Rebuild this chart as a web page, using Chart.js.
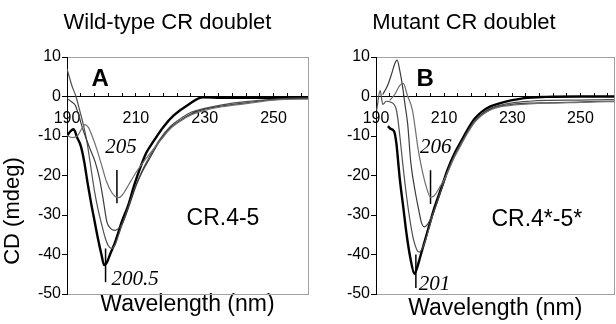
<!DOCTYPE html>
<html>
<head>
<meta charset="utf-8">
<script src="https://cdn.jsdelivr.net/npm/chart.js@4.4.1/dist/chart.umd.min.js"></script>
<style>
  html, body { margin: 0; padding: 0; background: #fff; overflow: hidden; }
  body { width: 616px; height: 324px; position: relative; }
  canvas { position: absolute; top: 0; }
  #chartA { left: 0; }
  #chartB { left: 310px; }
</style>
</head>
<body>
<canvas id="chartA" width="338" height="324"></canvas>
<canvas id="chartB" width="314" height="324"></canvas>
<script>
// tick marks every 4 nm, labels every 20 nm
const xTicks = [190, 194, 198, 202, 206, 210, 214, 218, 222, 226, 230, 234, 238, 242, 246, 250, 254, 258];
const xLabels = [190, 210, 230, 250];

// ---- panel A : wild-type CR.4-5 ----
const wlA1 = [190, 191.5, 193, 194.2, 195.2, 196.2, 197.3, 198.6, 200, 201.5, 203, 204, 205, 206, 207, 208, 210, 212, 214, 217, 220, 223, 226.5, 230, 235, 242, 250, 258, 260];
const cdA1 = [-9.8, -10.4, -10, -8.3, -7.1, -7.8, -10, -13.2, -17.2, -21.6, -24.3, -25.3, -25.6, -25, -23.7, -22.2, -19.3, -16.8, -14.5, -11.3, -8.2, -6.2, -4.5, -3.5, -2.6, -1.8, -0.9, -0.7, -0.7];
const wlA2 = [190, 191.4, 192.4, 193.5, 194.5, 195.5, 196.8, 198.2, 199.5, 200.5, 201.6, 202.8, 204, 205, 206, 208, 210, 212, 214, 217, 220, 223, 226.5, 230, 235, 242, 250, 258, 260];
const cdA2 = [-0.5, -1.4, -2.2, -5, -8, -10.5, -13.5, -16.6, -21, -26, -31.8, -33.5, -33.9, -33.4, -32.3, -27.8, -22.7, -18.8, -15.7, -11.2, -7.9, -6, -4.2, -3.2, -2.4, -1.6, -0.8, -0.5, -0.5];
const wlA3 = [190, 191.4, 192.6, 193.8, 194.8, 195.8, 196.7, 198, 199, 199.9, 201, 202, 203, 204, 205, 206, 208, 210, 212, 214, 217, 220, 223, 226, 230, 235, 242, 250, 258, 260];
const cdA3 = [7, 2.8, 0, -3.9, -7.3, -11.5, -16.6, -24, -28.5, -31.8, -35.5, -37.8, -38.5, -37.5, -35, -32.5, -27.5, -22.5, -18.5, -15.2, -10.8, -7.6, -5.6, -4, -3, -2.1, -1.3, -0.7, -0.4, -0.4];
const wlA4 = [190, 191, 191.9, 193, 194, 195, 196, 197, 198, 199, 200, 200.8, 201.6, 202.5, 204, 206, 207.8, 209.5, 211.5, 213, 215, 218, 221, 225, 229.5, 235, 245, 260];
const cdA4 = [-10, -8.8, -8.3, -10.5, -12.5, -16.5, -22, -27, -31.5, -36, -40, -42.7, -42, -40, -36.8, -31.5, -27.5, -22.5, -17.5, -14.3, -11.5, -7.7, -4.8, -2.2, -0.2, -0.3, -0.3, -0.3];

// ---- panel B : mutant CR.4*-5* ----
const wlB1 = [194, 195.5, 197, 198, 199.2, 200.7, 201.5, 202.3, 203.5, 204.8, 206, 207, 208, 209, 210, 211, 213, 215, 217, 219, 221, 223.6, 226, 230, 235, 240, 250, 258, 260];
const cdB1 = [-1, 0.5, 2.8, 3.3, 0.3, -3.5, -8, -13, -18.5, -23, -25.5, -25.2, -24, -22.5, -21, -19.3, -15.4, -12.2, -9.1, -6.5, -4.8, -3.4, -2.7, -2.2, -1.9, -1.7, -1.5, -1.3, -1.3];
const wlB2 = [192, 193.5, 194.5, 195.5, 196.2, 197, 197.8, 198.5, 199.3, 200.2, 201.7, 202.5, 203.3, 204.2, 205, 206, 207, 208, 209, 210, 211, 213, 215, 217, 219, 221, 223.6, 226, 230, 235, 240, 250, 258, 260];
const cdB2 = [0.5, 3, 5.5, 8.3, 9.2, 6.5, 2.5, -2, -7, -16.6, -25, -28.5, -31.8, -33, -32.5, -31, -29.2, -26.7, -24.2, -21.7, -19.2, -15.2, -12, -8.9, -6.3, -4.6, -3.2, -2.5, -2, -1.7, -1.6, -1.4, -1.2, -1.2];
const wlB3 = [190.2, 191.2, 192, 193, 194.2, 195.9, 196.4, 197, 197.8, 199, 200, 201, 202.6, 203.5, 204.5, 205.5, 207, 208, 209, 210, 211, 213, 215, 217, 219, 221, 223.6, 226, 230, 235, 240, 250, 258, 260];
const cdB3 = [-3.5, 1.5, -2, -1.2, -1.4, -3.1, -5.6, -10, -16.6, -25.5, -31.5, -36.2, -39.4, -38.6, -36.5, -33.5, -29, -26.5, -24, -21.5, -19, -15, -11.8, -8.7, -6.1, -4.4, -3, -2.3, -1.6, -1.2, -1, -0.9, -0.8, -0.8];
const wlB4 = [193.5, 194.3, 195.3, 196, 196.5, 197, 198, 199, 200, 201.3, 202, 203, 204, 205, 206, 207, 208, 209, 210, 211, 213, 215, 217, 219, 221, 223.6, 226, 229.6, 233.5, 240, 250, 260];
const cdB4 = [-7.5, -8.2, -8.8, -12, -16.5, -21, -28, -35, -40.5, -44.9, -43.5, -40.5, -37.5, -34.5, -31.5, -28.5, -26, -23.5, -21, -18.5, -14.5, -11.3, -8.2, -5.6, -3.9, -2.5, -1.8, -1, -0.4, -0.1, 0, 0];

// wavelength markers [x, yTop, yBottom]
const markA1 = [204.5, -18.6, -27];
const markA4 = [201.2, -38.5, -47];
const markB1 = [206, -18.7, -27.2];
const markB4 = [201.7, -40, -48.5];

const SANS = "'Liberation Sans', Arial, sans-serif";
const SERIF = "'Liberation Serif', 'Times New Roman', serif";

function pts(wl, cd) {
    return wl.map((w, i) => ({ x: w, y: cd[i] }));
}

function curve(wl, cd, color, width) {
    return {
        data: pts(wl, cd),
        borderColor: color,
        borderWidth: width,
        pointRadius: 0,
        cubicInterpolationMode: 'monotone',
        fill: false
    };
}

function marker(m) {
    return {
        data: [{ x: m[0], y: m[1] }, { x: m[0], y: m[2] }],
        borderColor: '#000',
        borderWidth: 1.5,
        pointRadius: 0,
        tension: 0
    };
}

// letters, sample names and wavelength labels placed in data units
function textPlugin(items, yTitle) {
    return {
        id: 'panelText',
        afterDraw(chart) {
            const { ctx, scales: { x, y } } = chart;
            ctx.save();
            ctx.fillStyle = '#000';
            ctx.textAlign = 'center';
            ctx.textBaseline = 'middle';
            items.forEach(t => {
                ctx.font = t.font;
                ctx.fillText(t.text, x.getPixelForValue(t.x), y.getPixelForValue(t.y));
            });
            if (yTitle) {
                ctx.translate(13, y.getPixelForValue(-29));
                ctx.rotate(-Math.PI / 2);
                ctx.font = '22px ' + SANS;
                ctx.fillText(yTitle, 0, 0);
            }
            ctx.restore();
        }
    };
}

function drawPanel(id, p) {
    const ctx = document.getElementById(id).getContext('2d');
    return new Chart(ctx, {
        type: 'line',
        data: { datasets: p.datasets },
        options: {
            responsive: false,
            animation: false,
            layout: { padding: { top: 7, right: p.padRight, bottom: 0, left: p.padLeft } },
            plugins: {
                legend: { display: false },
                tooltip: { enabled: false },
                title: {
                    display: true,
                    text: p.title,
                    color: '#000',
                    font: { family: SANS, size: 22, weight: 'normal' },
                    padding: { top: 3, bottom: 20.6 }
                }
            },
            scales: {
                x: {
                    type: 'linear',
                    min: 190,
                    max: 260,
                    position: { y: 0 },
                    afterBuildTicks: s => { s.ticks = xTicks.map(v => ({ value: v })); },
                    ticks: {
                        autoSkip: false,
                        maxRotation: 0,
                        padding: 16,
                        color: '#000',
                        font: { family: SANS, size: 16 },
                        callback: v => xLabels.includes(v) ? String(v) : ''
                    },
                    grid: { drawOnChartArea: false, tickLength: -4, color: '#000' },
                    border: { color: '#000', width: 1 }
                },
                xBottom: {
                    type: 'linear',
                    axis: 'x',
                    position: 'bottom',
                    min: 190,
                    max: 260,
                    afterFit: s => { s.height = 30; },
                    ticks: { display: false },
                    grid: { display: false, drawTicks: false },
                    border: { color: '#a0a0a0' },
                    title: {
                        display: true,
                        text: 'Wavelength (nm)',
                        color: '#000',
                        font: { family: SANS, size: 23 },
                        padding: { top: 0, bottom: p.xTitlePad }
                    }
                },
                xTop: {
                    type: 'linear',
                    axis: 'x',
                    position: 'top',
                    min: 190,
                    max: 260,
                    afterFit: s => { s.height = 0; },
                    ticks: { display: false },
                    grid: { display: false, drawTicks: false },
                    border: { color: '#a0a0a0' }
                },
                y: {
                    min: -50,
                    max: 10,
                    position: 'left',
                    afterFit: s => { s.width = p.yWidth; },
                    ticks: {
                        stepSize: 5,
                        padding: 1,
                        color: '#000',
                        font: { family: SANS, size: 16 },
                        callback: v => v % 10 === 0 ? String(v) : ''
                    },
                    grid: { drawOnChartArea: false, tickLength: 5, color: '#000' },
                    border: { color: '#000', width: 1 }
                },
                yRight: {
                    axis: 'y',
                    position: 'right',
                    min: -50,
                    max: 10,
                    afterFit: s => { s.width = 0; },
                    ticks: { display: false },
                    grid: { display: false, drawTicks: false },
                    border: { color: '#a0a0a0' }
                }
            }
        },
        plugins: [textPlugin(p.texts, p.yTitle)]
    });
}

drawPanel('chartA', {
    title: 'Wild-type CR doublet',
    yTitle: 'CD (mdeg)',
    padLeft: 27,
    yWidth: 40,
    padRight: 30,
    xTitlePad: 6,
    datasets: [
        curve(wlA1, cdA1, '#6e6e6e', 1.2),
        curve(wlA2, cdA2, '#3c3c3c', 1.2),
        curve(wlA3, cdA3, '#505050', 1.2),
        curve(wlA4, cdA4, '#000', 2.4),
        marker(markA1),
        marker(markA4)
    ],
    texts: [
        { text: 'A', x: 199.6, y: 4.4, font: 'bold 24px ' + SANS },
        { text: 'CR.4-5', x: 235.3, y: -31, font: '23px ' + SANS },
        { text: '205', x: 205.7, y: -13, font: 'italic 21px ' + SERIF },
        { text: '200.5', x: 209.8, y: -46.2, font: 'italic 21px ' + SERIF }
    ]
});

drawPanel('chartB', {
    title: 'Mutant CR doublet',
    yTitle: null,
    padLeft: 0,
    yWidth: 66,
    padRight: 6,
    xTitlePad: 2,
    datasets: [
        curve(wlB1, cdB1, '#6e6e6e', 1.2),
        curve(wlB2, cdB2, '#3c3c3c', 1.2),
        curve(wlB3, cdB3, '#505050', 1.2),
        curve(wlB4, cdB4, '#000', 2.4),
        marker(markB1),
        marker(markB4)
    ],
    texts: [
        { text: 'B', x: 204.4, y: 4.4, font: 'bold 24px ' + SANS },
        { text: 'CR.4*-5*', x: 237.2, y: -31.3, font: '23px ' + SANS },
        { text: '206', x: 207.5, y: -13, font: 'italic 21px ' + SERIF },
        { text: '201', x: 207.2, y: -47.6, font: 'italic 21px ' + SERIF }
    ]
});
</script>
</body>
</html>
